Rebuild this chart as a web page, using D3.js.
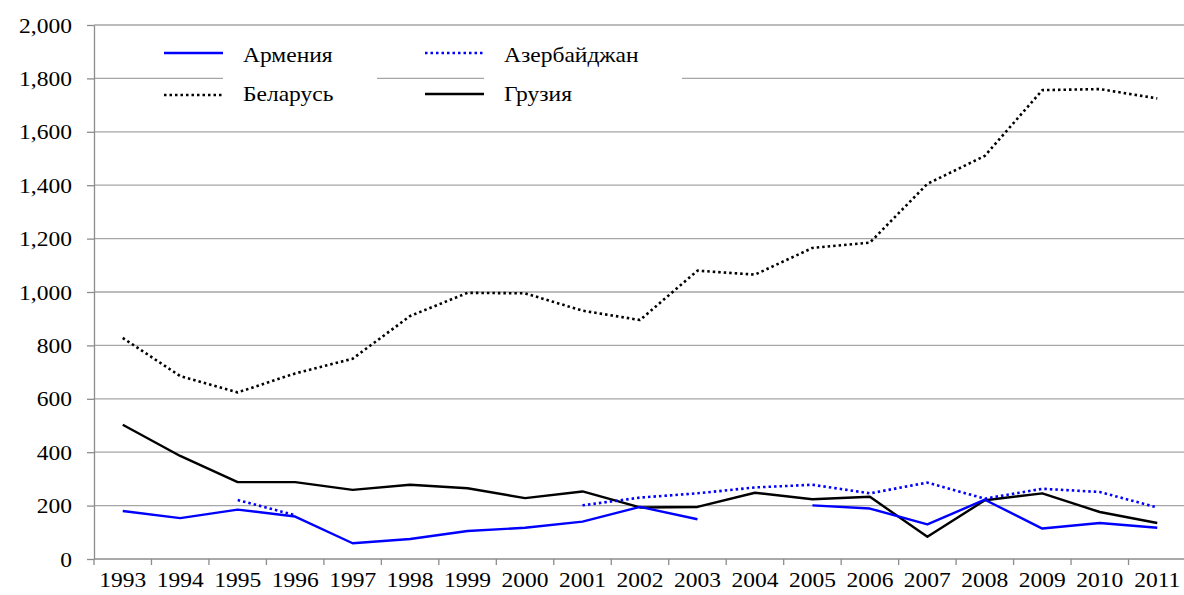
<!DOCTYPE html>
<html>
<head>
<meta charset="utf-8">
<script src="https://cdn.jsdelivr.net/npm/d3@7"></script>
<style>
    body { margin: 0; background: #fff; }
    svg text { fill: #000; }
</style>
</head>
<body>
<div id="chart"></div>
<script>
const years = ['1993', '1994', '1995', '1996', '1997', '1998', '1999', '2000', '2001', '2002',
    '2003', '2004', '2005', '2006', '2007', '2008', '2009', '2010', '2011']
const armenia = [180, 153, 185, 159, 59, 75, 105, 117, 140, 195, 149, null, 201, 189, 130, 222, 114, 135, 117]
const azerbaijan = [null, null, 221, 164, null, null, null, null, 201, 230, 246, 268, 278, 246, 286, 226, 263, 251, 193]
const belarus = [828, 685, 624, 695, 750, 910, 997, 995, 930, 895, 1080, 1065, 1165, 1185, 1405, 1510, 1756, 1760, 1725]
const georgia = [503, 386, 288, 288, 259, 278, 265, 228, 253, 193, 195, 248, 224, 233, 83, 220, 246, 176, 135]
const yTicks = [0, 200, 400, 600, 800, 1000, 1200, 1400, 1600, 1800, 2000]

const series = [
    { name: 'Армения', values: armenia, color: '#0000ff', dash: null },
    { name: 'Азербайджан', values: azerbaijan, color: '#0000ff', dash: '2.5,3' },
    { name: 'Беларусь', values: belarus, color: '#000000', dash: '2.5,3' },
    { name: 'Грузия', values: georgia, color: '#000000', dash: null }
]

const width = 1184
const height = 595
const sx = 1.12 // the source text is a little stretched sideways
const font = "'Liberation Serif', 'Times New Roman', serif"

const svg = d3.select('#chart')
    .append('svg')
    .attr('width', width)
    .attr('height', height)

const x = d3.scaleBand()
    .domain(years)
    .range([94, 1186])

const y = d3.scaleLinear()
    .domain([0, 2000])
    .range([559, 25])

// gridlines
svg.append('g')
    .selectAll('line')
    .data(yTicks.filter(d => d > 0))
    .enter()
    .append('line')
    .attr('x1', 94)
    .attr('x2', width)
    .attr('y1', d => y(d))
    .attr('y2', d => y(d))
    .attr('stroke', '#a6a6a6')
    .attr('stroke-width', 1.3)

// legend text boxes hide the gridline behind them
const legendBoxes = [[223, 377], [484, 682]]
svg.append('g')
    .selectAll('rect')
    .data(legendBoxes)
    .enter()
    .append('rect')
    .attr('x', d => d[0])
    .attr('width', d => d[1] - d[0])
    .attr('y', 38)
    .attr('height', 72)
    .attr('fill', '#fff')

// y axis
const yAxis = svg.append('g')
    .attr('transform', 'translate(94,0)')
    .call(d3.axisLeft(y).tickValues(yTicks).tickFormat(d3.format(',')).tickSize(7).tickSizeOuter(0))
yAxis.attr('font-family', font).attr('font-size', 21)
yAxis.select('.domain').attr('stroke', '#8c8c8c').attr('stroke-width', 1.3)
yAxis.selectAll('.tick line').attr('stroke', '#8c8c8c').attr('stroke-width', 1.3)
yAxis.selectAll('.tick text')
    .attr('x', -22 / sx)
    .attr('dy', '0.34em')
    .attr('transform', `scale(${sx},1)`)
    .attr('fill', '#000')

// x axis: labels at centres, ticks at category boundaries
const xAxis = svg.append('g')
    .attr('transform', 'translate(0,559)')
    .call(d3.axisBottom(x).tickSize(0).tickSizeOuter(0))
xAxis.attr('font-family', font).attr('font-size', 21)
xAxis.select('.domain').remove()
xAxis.selectAll('.tick text')
    .attr('y', 0)
    .attr('dy', 0)
    .attr('transform', `translate(0,28) scale(${sx},1)`)
    .attr('fill', '#000')

svg.append('line')
    .attr('x1', 94)
    .attr('x2', width)
    .attr('y1', 559)
    .attr('y2', 559)
    .attr('stroke', '#8c8c8c')
    .attr('stroke-width', 1.3)

const bounds = years.map(d => x(d)).concat([x.range()[1]])
svg.append('g')
    .selectAll('line')
    .data(bounds)
    .enter()
    .append('line')
    .attr('x1', d => d)
    .attr('x2', d => d)
    .attr('y1', 559)
    .attr('y2', 565)
    .attr('stroke', '#8c8c8c')
    .attr('stroke-width', 1.3)

// series
const line = d3.line()
    .defined(d => d.v !== null)
    .x(d => x(d.year) + x.bandwidth() / 2)
    .y(d => y(d.v))

const draw = [series[3], series[0], series[2], series[1]]
svg.append('g')
    .selectAll('path')
    .data(draw)
    .enter()
    .append('path')
    .attr('d', s => line(years.map((yr, i) => ({ year: yr, v: s.values[i] }))))
    .attr('fill', 'none')
    .attr('stroke', s => s.color)
    .attr('stroke-width', s => s.dash ? 2.6 : 2.4)
    .attr('stroke-dasharray', s => s.dash)
    .attr('stroke-linejoin', 'round')

// legend
const legendPos = [
    { sx1: 164, sx2: 223, ly: 53, tx: 243, ty: 62 },
    { sx1: 425, sx2: 484, ly: 53, tx: 504, ty: 62 },
    { sx1: 164, sx2: 223, ly: 95, tx: 243, ty: 101 },
    { sx1: 425, sx2: 484, ly: 94, tx: 504, ty: 101 }
]
const legend = svg.append('g')
    .attr('font-family', font)
    .attr('font-size', 21)
    .selectAll('g')
    .data(series)
    .enter()
    .append('g')

legend.append('line')
    .attr('x1', (d, i) => legendPos[i].sx1)
    .attr('x2', (d, i) => legendPos[i].sx2)
    .attr('y1', (d, i) => legendPos[i].ly)
    .attr('y2', (d, i) => legendPos[i].ly)
    .attr('stroke', d => d.color)
    .attr('stroke-width', d => d.dash ? 2.6 : 2.4)
    .attr('stroke-dasharray', d => d.dash)

legend.append('text')
    .attr('transform', (d, i) => `translate(${legendPos[i].tx},${legendPos[i].ty}) scale(${sx},1)`)
    .text(d => d.name)
</script>
</body>
</html>
